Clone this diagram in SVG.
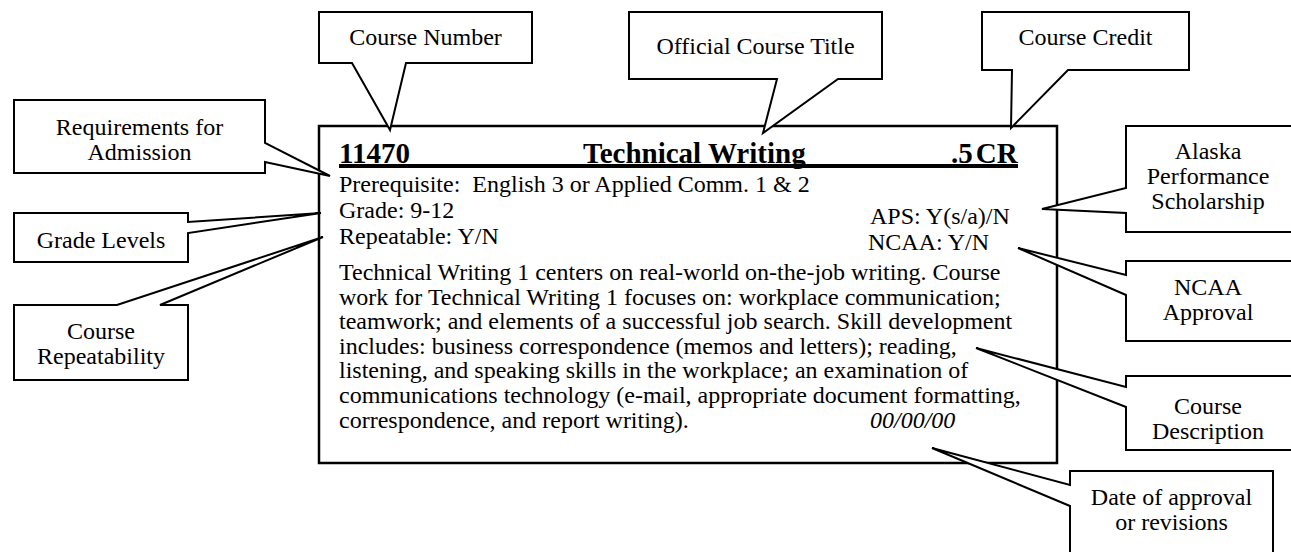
<svg xmlns="http://www.w3.org/2000/svg" width="1291" height="552" viewBox="0 0 1291 552">
<style>
.c{fill:#fff;stroke:#000;stroke-width:2;stroke-linejoin:miter}
.t{font-family:"Liberation Serif","Times New Roman",serif;font-size:24px;fill:#000}
.m{text-anchor:middle}
.b{font-weight:bold;font-size:29px}
.i{font-style:italic}
</style>
<rect width="1291" height="552" fill="#fff"/>
<g id="main">
<rect x="319" y="126" width="738" height="337" fill="#fff" stroke="#000" stroke-width="2.5"/>
<text class="t b" x="339" y="163">11470</text>
<text class="t b" x="583" y="163">Technical Writing</text>
<text class="t b" x="951" y="163">.5<tspan dx="3">CR</tspan></text>
<rect x="339" y="164" width="679" height="4" fill="#000"/>
<text class="t" x="339" y="192" xml:space="preserve">Prerequisite:  English 3 or Applied Comm. 1 &amp; 2</text>
<text class="t" x="339" y="218">Grade: 9-12</text>
<text class="t" x="339" y="244">Repeatable: Y/N</text>
<text class="t" x="870" y="224">APS: Y(s/a)/N</text>
<text class="t" x="868" y="250">NCAA: Y/N</text>
<text class="t" x="339" y="280">Technical Writing 1 centers on real-world on-the-job writing. Course</text>
<text class="t" x="339" y="304.6">work for Technical Writing 1 focuses on: workplace communication;</text>
<text class="t" x="339" y="329.2">teamwork; and elements of a successful job search. Skill development</text>
<text class="t" x="339" y="353.8">includes: business correspondence (memos and letters); reading,</text>
<text class="t" x="339" y="378.4">listening, and speaking skills in the workplace; an examination of</text>
<text class="t" x="339" y="403">communications technology (e-mail, appropriate document formatting,</text>
<text class="t" x="339" y="427.6">correspondence, and report writing).</text>
<text class="t i" x="870" y="427.6">00/00/00</text>
</g>
<g id="connectors">
<g id="course-number">
<path class="c" d="M319,12 H532 V63 H406 L390,130 L352,63 H319 Z"/>
<text class="t m" x="425.5" y="45">Course Number</text>
</g>
<g id="official-title">
<path class="c" d="M629,12 H882 V79 H838 L763,133 L777,79 H629 Z"/>
<text class="t m" x="755.5" y="54">Official Course Title</text>
</g>
<g id="course-credit">
<path class="c" d="M982,12 H1189 V70 H1068 L1011,128 L1012,70 H982 Z"/>
<text class="t m" x="1085.5" y="45">Course Credit</text>
</g>
<g id="requirements">
<path class="c" d="M14,100 H265 V143 L330,176 L265,162 V173 H14 Z"/>
<text class="t m" x="139.5" y="135">Requirements for</text>
<text class="t m" x="139.5" y="160">Admission</text>
</g>
<g id="grade-levels">
<path class="c" d="M14,213 H188 V222 L321,213 L188,233 V262 H14 Z"/>
<text class="t m" x="101" y="248">Grade Levels</text>
</g>
<g id="repeatability">
<path class="c" d="M14,305 H117 L323,237 L160,305 H188 V380 H14 Z"/>
<text class="t m" x="101" y="339">Course</text>
<text class="t m" x="101" y="364">Repeatability</text>
</g>
<g id="aps">
<path class="c" d="M1126,126 H1296 V232 H1126 V213 L1042,209 L1126,188 Z"/>
<text class="t m" x="1208" y="159">Alaska</text>
<text class="t m" x="1208" y="184">Performance</text>
<text class="t m" x="1208" y="209">Scholarship</text>
</g>
<g id="ncaa">
<path class="c" d="M1126,261 H1296 V341 H1126 V295 L1018,248 L1126,275 Z"/>
<text class="t m" x="1208" y="295">NCAA</text>
<text class="t m" x="1208" y="320">Approval</text>
</g>
<g id="description">
<path class="c" d="M1126,376 H1296 V450 H1126 V407 L976,348 L1126,387 Z"/>
<text class="t m" x="1208" y="414">Course</text>
<text class="t m" x="1208" y="439">Description</text>
</g>
<g id="date">
<path class="c" d="M1070,471 H1273 V556 H1070 V506 L932,448 L1070,485 Z"/>
<text class="t m" x="1171.5" y="505">Date of approval</text>
<text class="t m" x="1171.5" y="530">or revisions</text>
</g>
</g>
</svg>
